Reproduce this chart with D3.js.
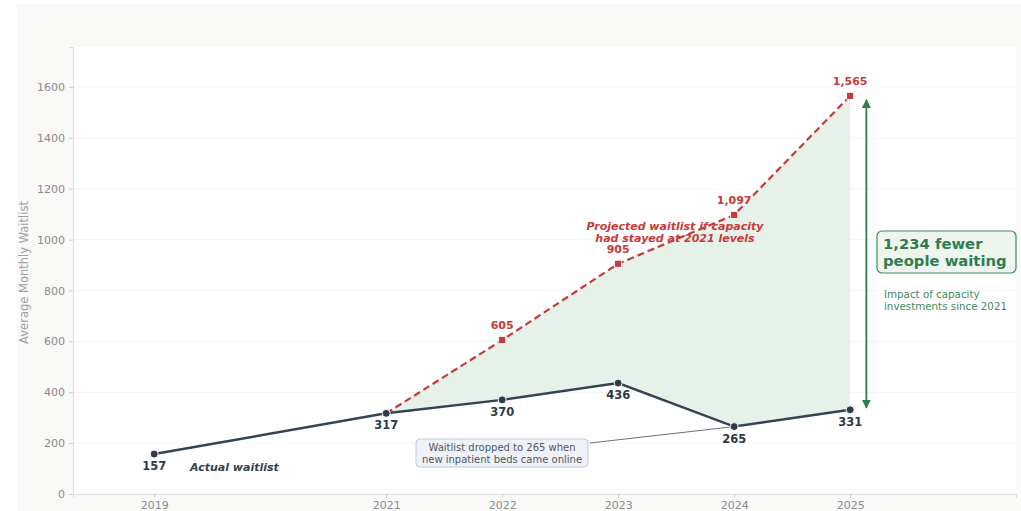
<!DOCTYPE html>
<html>
<head>
<meta charset="utf-8">
<script src="https://cdn.jsdelivr.net/npm/d3@7"></script>
<style>
  body { margin: 0; background: #ffffff; }
  svg { display: block; font-family: "DejaVu Sans", sans-serif; }
</style>
</head>
<body>
<svg id="chart" width="1021" height="511"></svg>
<script>
// data
var years = [2019, 2021, 2022, 2023, 2024, 2025];
var actual = [157, 317, 370, 436, 265, 331];
var projYears = [2021, 2022, 2023, 2024, 2025];
var projected = [317, 605, 905, 1097, 1565];
var yTicks = [0, 200, 400, 600, 800, 1000, 1200, 1400, 1600];

var svg = d3.select("#chart");

// figure background
svg.append("rect").attr("x", 17).attr("y", 4).attr("width", 1004).attr("height", 507).attr("fill", "#f9f9f8");

// plot box (note: "top" is taken by window.top, so use other names)
var pLeft = 73, pTop = 47, pRight = 1016, pBottom = 494;

svg.append("rect").attr("x", pLeft).attr("y", pTop).attr("width", pRight - pLeft).attr("height", pBottom - pTop).attr("fill", "#ffffff");

var x = d3.scaleLinear().domain([2018.3, 2026.43]).range([pLeft, pRight]);
var y = d3.scaleLinear().domain([0, 1757]).range([pBottom, pTop]);

// grid
svg.append("g").selectAll("line").data(yTicks.slice(1)).enter().append("line")
    .attr("x1", pLeft).attr("x2", pRight)
    .attr("y1", function (d) { return y(d); }).attr("y2", function (d) { return y(d); })
    .attr("stroke", "#f5f5f5").attr("stroke-width", 1);

// axes
var yAxis = svg.append("g").attr("transform", "translate(" + pLeft + ",0)")
    .call(d3.axisLeft(y).tickValues(yTicks).tickSize(4).tickPadding(4).tickFormat(d3.format("d")));
var xAxis = svg.append("g").attr("transform", "translate(0," + pBottom + ")")
    .call(d3.axisBottom(x).tickValues(years).tickSize(4).tickPadding(3).tickFormat(d3.format("d")));

[yAxis, xAxis].forEach(function (a) {
    a.select(".domain").attr("stroke", "#dcdcdc");
    a.selectAll(".tick line").attr("stroke", "#cccccc");
    a.selectAll(".tick text").attr("fill", "#8a8a8a").style("font-size", "11px").style("font-family", "DejaVu Sans");
});

svg.append("text")
    .attr("transform", "translate(28," + ((pTop + pBottom) / 2 + 2) + ") rotate(-90)")
    .attr("text-anchor", "middle")
    .attr("fill", "#a0a0a0").style("font-size", "11.5px")
    .text("Average Monthly Waitlist");

// shaded gap between projected and actual
var gap = projYears.map(function (yr, i) {
    return { x: yr, hi: projected[i], lo: actual[years.indexOf(yr)] };
});
svg.append("path").datum(gap)
    .attr("d", d3.area().x(function (d) { return x(d.x); }).y0(function (d) { return y(d.lo); }).y1(function (d) { return y(d.hi); }))
    .attr("fill", "#e3efe7").attr("opacity", 0.9);

// projected line
var projPts = projYears.map(function (yr, i) { return [yr, projected[i]]; });
svg.append("path").datum(projPts)
    .attr("d", d3.line().x(function (d) { return x(d[0]); }).y(function (d) { return y(d[1]); }))
    .attr("fill", "none").attr("stroke", "#c63a3a").attr("stroke-width", 2.2)
    .attr("stroke-dasharray", "7,4");

// actual line
var actPts = years.map(function (yr, i) { return [yr, actual[i]]; });
svg.append("path").datum(actPts)
    .attr("d", d3.line().x(function (d) { return x(d[0]); }).y(function (d) { return y(d[1]); }))
    .attr("fill", "none").attr("stroke", "#344354").attr("stroke-width", 2.5);

// annotation for the 2024 drop
var boxCx = 502, boxCy = 453;
svg.append("line")
    .attr("x1", boxCx + 88).attr("y1", boxCy - 10)
    .attr("x2", x(2024)).attr("y2", y(265))
    .attr("stroke", "#55606e").attr("stroke-width", 0.9);
svg.append("rect")
    .attr("x", boxCx - 86).attr("y", boxCy - 14).attr("width", 172).attr("height", 28).attr("rx", 4)
    .attr("fill", "#eef2f7").attr("stroke", "#bfcad8").attr("stroke-width", 1);
svg.append("text").attr("x", boxCx).attr("y", boxCy - 2).attr("text-anchor", "middle")
    .attr("fill", "#4d5766").style("font-size", "10px").text("Waitlist dropped to 265 when");
svg.append("text").attr("x", boxCx).attr("y", boxCy + 10).attr("text-anchor", "middle")
    .attr("fill", "#4d5766").style("font-size", "10px").text("new inpatient beds came online");

// projected markers + labels
svg.append("g").selectAll("rect").data(projPts.slice(1)).enter().append("rect")
    .attr("x", function (d) { return x(d[0]) - 3.5; }).attr("y", function (d) { return y(d[1]) - 3.5; })
    .attr("width", 7).attr("height", 7)
    .attr("fill", "#c63a3a").attr("stroke", "#ffffff").attr("stroke-width", 0.8);
svg.append("g").selectAll("text").data(projPts.slice(1)).enter().append("text")
    .attr("x", function (d) { return x(d[0]); }).attr("y", function (d) { return y(d[1]) - 11; })
    .attr("text-anchor", "middle").attr("fill", "#c63a3a")
    .style("font-size", "11px").style("font-weight", "bold")
    .attr("paint-order", "stroke").attr("stroke", "#ffffff").attr("stroke-width", 2).attr("stroke-opacity", 0.7)
    .text(function (d) { return d3.format(",")(d[1]); });

// actual markers + labels
svg.append("g").selectAll("circle").data(actPts).enter().append("circle")
    .attr("cx", function (d) { return x(d[0]); }).attr("cy", function (d) { return y(d[1]); })
    .attr("r", 4).attr("fill", "#2c3a4a").attr("stroke", "#ffffff").attr("stroke-width", 1);
svg.append("g").selectAll("text").data(actPts).enter().append("text")
    .attr("x", function (d) { return x(d[0]); }).attr("y", function (d) { return y(d[1]) + 16; })
    .attr("text-anchor", "middle").attr("fill", "#2c3a4a")
    .style("font-size", "11.5px").style("font-weight", "bold")
    .attr("paint-order", "stroke").attr("stroke", "#ffffff").attr("stroke-width", 2).attr("stroke-opacity", 0.7)
    .text(function (d) { return d3.format(",")(d[1]); });

// series labels
svg.append("text").attr("x", 675).attr("y", 230).attr("text-anchor", "middle")
    .attr("fill", "#c63a3a").style("font-size", "11px").style("font-weight", "bold").style("font-style", "italic")
    .text("Projected waitlist if capacity");
svg.append("text").attr("x", 675).attr("y", 242).attr("text-anchor", "middle")
    .attr("fill", "#c63a3a").style("font-size", "11px").style("font-weight", "bold").style("font-style", "italic")
    .text("had stayed at 2021 levels");
svg.append("text").attr("x", 190).attr("y", 471)
    .attr("fill", "#344354").style("font-size", "11px").style("font-weight", "bold").style("font-style", "italic")
    .text("Actual waitlist");

// double-headed arrow showing the gap in 2025
var ax = x(2025.14);
var lastProj = projected[projected.length - 1], lastAct = actual[actual.length - 1];
var defs = svg.append("defs");
defs.append("marker").attr("id", "ah").attr("viewBox", "0 0 10 10").attr("refX", 9).attr("refY", 5)
    .attr("markerWidth", 5).attr("markerHeight", 6).attr("orient", "auto-start-reverse")
    .append("path").attr("d", "M0,0 L10,5 L0,10 Z").attr("fill", "#2e7d4f");
svg.append("line")
    .attr("x1", ax).attr("x2", ax)
    .attr("y1", y(lastAct) - 2).attr("y2", y(lastProj) + 4)
    .attr("stroke", "#2e7d4f").attr("stroke-width", 1.8)
    .attr("marker-start", "url(#ah)").attr("marker-end", "url(#ah)");

svg.append("rect").attr("x", 877).attr("y", 231).attr("width", 139).attr("height", 42).attr("rx", 5)
    .attr("fill", "#eef5ef").attr("stroke", "#3f8a5c").attr("stroke-width", 1.2);
svg.append("text").attr("x", 883).attr("y", 249)
    .attr("fill", "#2e7d4f").style("font-size", "14.8px").style("font-weight", "bold")
    .text(d3.format(",")(lastProj - lastAct) + " fewer");
svg.append("text").attr("x", 883).attr("y", 266)
    .attr("fill", "#2e7d4f").style("font-size", "14.8px").style("font-weight", "bold")
    .text("people waiting");
svg.append("text").attr("x", 884).attr("y", 298)
    .attr("fill", "#3f8a5c").style("font-size", "10.3px").text("Impact of capacity");
svg.append("text").attr("x", 884).attr("y", 310)
    .attr("fill", "#3f8a5c").style("font-size", "10.3px").text("investments since 2021");
</script>
</body>
</html>
